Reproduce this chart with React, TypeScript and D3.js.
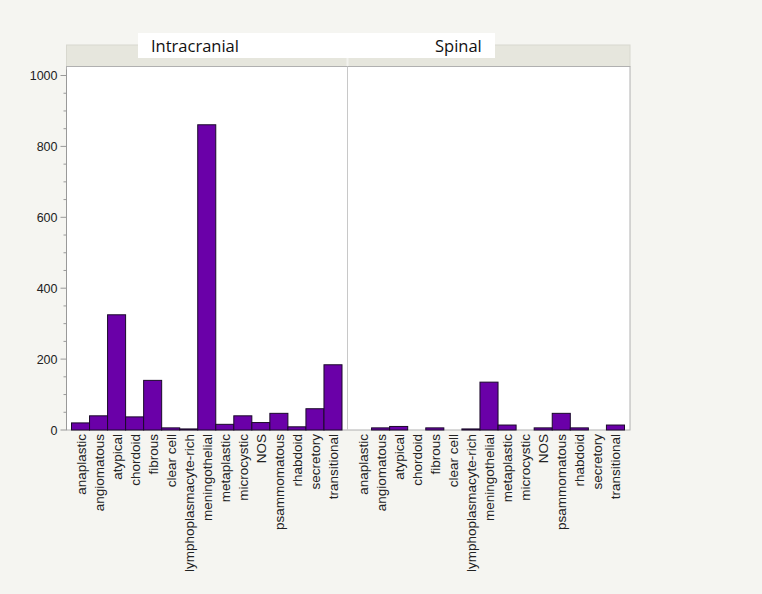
import React from "react";
import * as d3 from "d3";

const categories = [
  "anaplastic", "angiomatous", "atypical", "chordoid", "fibrous", "clear cell",
  "lymphoplasmacyte-rich", "meningothelial", "metaplastic", "microcystic", "NOS",
  "psammomatous", "rhabdoid", "secretory", "transitional",
];
const panels = ["Intracranial", "Spinal"];
const intracranialValues = [20, 40, 325, 37, 140, 6, 3, 861, 16, 40, 21, 47, 9, 60, 184];
const spinalValues = [0, 6, 10, 0, 6, 0, 3, 135, 14, 0, 6, 47, 6, 0, 14];
const yTicks = [0, 200, 400, 600, 800, 1000];

const W = 762, H = 594;
const left = 66.5, right = 630, top = 66.5, bottom = 430;
const stripTop = 45;

export default function App() {
  const mid = 347.5;
  const panelX = [
    d3.scaleBand().domain(categories).range([left + 5, mid - 5.5]).padding(0),
    d3.scaleBand().domain(categories).range([mid + 6, right - 5.5]).padding(0),
  ];
  const y = d3.scaleLinear().domain([0, 1000]).range([bottom, 75.5]);
  const minor = d3.range(0, 1001, 50).filter((v) => v % 200 !== 0);
  const data = [intracranialValues, spinalValues];
  const sans = "Liberation Sans, Arial, sans-serif";

  return (
    <svg width={W} height={H} style={{ position: "absolute", left: 0, top: 0 }}>
      <rect x={0} y={0} width={W} height={H} fill="#f5f5f1" />
      {/* strip */}
      <rect x={left} y={stripTop} width={right - left} height={top - stripTop} fill="#e6e6dd" stroke="#d8d8cf" strokeWidth={1} />
      <line x1={mid} x2={mid} y1={stripTop} y2={top} stroke="#f3f3ee" strokeWidth={2} />
      {/* plot area */}
      <rect x={left} y={top} width={right - left} height={bottom - top} fill="#ffffff" stroke="#b0b0b0" strokeWidth={1} />
      <line x1={mid} x2={mid} y1={top} y2={bottom} stroke="#c8c8c8" strokeWidth={1} />
      {/* panel title box */}
      <rect x={138} y={33} width={357} height={25} fill="#ffffff" />
      <text x={151} y={52} fontFamily="Open Sans, sans-serif" fontSize={16.5} fill="#111">{panels[0]}</text>
      <text x={435} y={52} fontFamily="Open Sans, sans-serif" fontSize={16.5} fill="#111">{panels[1]}</text>
      {/* bars */}
      {data.map((vals, p) =>
        vals.map((v, i) => {
          const x = panelX[p];
          if (v <= 0) return null;
          return (
            <rect
              key={p + "-" + i}
              x={x(categories[i])!}
              y={y(v)}
              width={x.bandwidth()}
              height={bottom - y(v)}
              fill="#6a00a8"
              stroke="#1a0a2a"
              strokeWidth={1}
            />
          );
        })
      )}
      {/* y axis */}
      <line x1={left} x2={left} y1={y(1000) - 6} y2={bottom} stroke="#999" strokeWidth={1} />
      {minor.map((v) => (
        <line key={"m" + v} x1={left - 3} x2={left} y1={y(v)} y2={y(v)} stroke="#999" />
      ))}
      {yTicks.map((v) => (
        <g key={"t" + v}>
          <line x1={left - 6} x2={left} y1={y(v)} y2={y(v)} stroke="#999" />
          <text x={left - 9} y={y(v) + 4.5} textAnchor="end" fontFamily={sans} fontSize={12.5} fill="#222">{v}</text>
        </g>
      ))}
      {/* x labels */}
      {panelX.map((x, p) =>
        categories.map((c) => {
          const cx = x(c)! + x.bandwidth() / 2;
          return (
            <text
              key={p + c}
              transform={`translate(${cx + 5},${bottom + 4}) rotate(-90)`}
              textAnchor="end"
              fontFamily={sans}
              fontSize={13.5}
              fill="#222"
            >
              {c}
            </text>
          );
        })
      )}
    </svg>
  );
}
